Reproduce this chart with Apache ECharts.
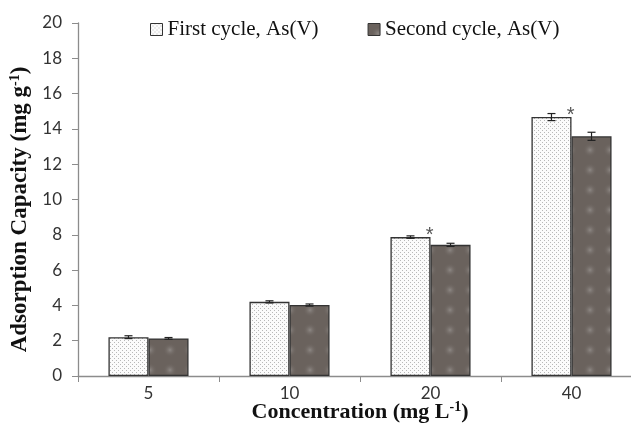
<!DOCTYPE html>
<html>
<head>
<meta charset="utf-8">
<script src="https://cdn.jsdelivr.net/npm/echarts@6/dist/echarts.min.js"></script>
<style>
html,body{margin:0;padding:0;background:#fff;}
#chart{width:631px;height:425px;}
</style>
</head>
<body>
<div id="chart"></div>
<script>
var categories=['5','10','20','40'];
var firstCycle=[2.2,4.2,7.87,14.67];
var secondCycle=[2.13,4.02,7.43,13.58];
var firstErr=[0.08,0.06,0.07,0.2];
var secondErr=[0.05,0.06,0.09,0.23];
var firstMarks=['','','*','*'];
var yTicks={min:0,max:20,interval:2};

// dotted fill for first cycle
function dotPattern(){
    var c=document.createElement('canvas');
    c.width=4;c.height=4;
    var g=c.getContext('2d');
    g.fillStyle='#fbfbfb';g.fillRect(0,0,4,4);
    g.fillStyle='#b8b8b8';
    g.fillRect(0,0,1,1);g.fillRect(2,2,1,1);
    return c;
}
// blurry grey fill for second cycle
function greyPattern(){
    var c=document.createElement('canvas');
    c.width=20;c.height=20;
    var g=c.getContext('2d');
    g.fillStyle='#6a625d';g.fillRect(0,0,20,20);
    var r=g.createRadialGradient(10,10,0,10,10,7);
    r.addColorStop(0,'rgba(150,145,142,0.8)');
    r.addColorStop(1,'rgba(106,98,93,0)');
    g.fillStyle=r;g.fillRect(0,0,20,20);
    return c;
}

var chart=echarts.init(document.getElementById('chart'));
var BW=0.284;
function errItem(err,side){
    return function(params,api){
        var idx=api.value(0),val=api.value(1),e=err[idx];
        var band=api.size([1,0])[0];
        var c=api.coord([idx,val]);
        var x=c[0]+side*band*BW/2;
        var top=api.coord([idx,val+e])[1];
        var bot=api.coord([idx,val-e])[1];
        var st={stroke:'#222',lineWidth:1.2};
        return {type:'group',children:[
            {type:'line',shape:{x1:x,y1:top,x2:x,y2:bot},style:st},
            {type:'line',shape:{x1:x-4,y1:top,x2:x+4,y2:top},style:st},
            {type:'line',shape:{x1:x-4,y1:bot,x2:x+4,y2:bot},style:st}
        ]};
    };
}

var option={
    animation:false,
    backgroundColor:'#fff',
    grid:{left:78,top:23,width:564,height:353,outerBoundsMode:'none',containLabel:false},
    legend:{
        top:14,left:145,itemGap:49,itemWidth:12,itemHeight:12,
        textStyle:{fontFamily:'Liberation Serif',fontSize:21,color:'#111'},
        data:[{name:'First cycle, As(V)',icon:'rect',itemStyle:{borderColor:'#333',borderWidth:1}},
              {name:'Second cycle, As(V)',icon:'rect',itemStyle:{borderColor:'#333',borderWidth:1}}]
    },
    xAxis:{
        type:'category',data:categories,
        axisLine:{lineStyle:{color:'#8c8c8c',width:1.3}},
        axisTick:{show:true,length:6,lineStyle:{color:'#8c8c8c'}},
        axisLabel:{fontFamily:'Lato',fontSize:17,color:'#333',margin:9},
        name:'Concentration (mg L{s|-1})',nameLocation:'middle',nameGap:24,nameMoveOverlap:false,
        nameTextStyle:{fontFamily:'Liberation Serif',fontWeight:'bold',fontSize:22,color:'#111',
            rich:{s:{fontFamily:'Liberation Serif',fontWeight:'bold',fontSize:14,verticalAlign:'top',padding:[0,0,10,0]}}}
    },
    yAxis:{
        type:'value',min:yTicks.min,max:yTicks.max,interval:yTicks.interval,
        splitLine:{show:false},
        axisLine:{show:true,lineStyle:{color:'#8c8c8c',width:1.3}},
        axisTick:{show:true,length:6,lineStyle:{color:'#8c8c8c'}},
        axisLabel:{fontFamily:'Lato',fontSize:17,color:'#333',margin:16},
        name:'Adsorption Capacity (mg g{s|-1})',nameLocation:'middle',nameGap:46,nameRotate:90,nameMoveOverlap:false,
        nameTextStyle:{fontFamily:'Liberation Serif',fontWeight:'bold',fontSize:23,color:'#111',padding:[0,20,0,0],
            rich:{s:{fontFamily:'Liberation Serif',fontWeight:'bold',fontSize:14,verticalAlign:'top',padding:[0,0,10,0]}}}
    },
    series:[
        {
            name:'First cycle, As(V)',type:'bar',barWidth:(BW*100)+'%',barGap:'0%',
            itemStyle:{color:{image:dotPattern(),repeat:'repeat'},borderColor:'#333',borderWidth:1.3},
            label:{show:true,position:'insideTopRight',offset:[8,-17],fontFamily:'Liberation Sans',fontSize:20,color:'#555',
                formatter:function(p){return firstMarks[p.dataIndex];}},
            data:firstCycle
        },
        {
            name:'Second cycle, As(V)',type:'bar',barWidth:(BW*100)+'%',barGap:'0%',
            itemStyle:{color:{image:greyPattern(),repeat:'repeat'},borderColor:'#333',borderWidth:1.3},
            data:secondCycle
        },
        {
            type:'custom',renderItem:errItem(firstErr,-1),z:5,
            data:firstCycle.map(function(v,i){return [i,v];})
        },
        {
            type:'custom',renderItem:errItem(secondErr,1),z:5,
            data:secondCycle.map(function(v,i){return [i,v];})
        }
    ]
};
chart.setOption(option);
</script>
</body>
</html>
